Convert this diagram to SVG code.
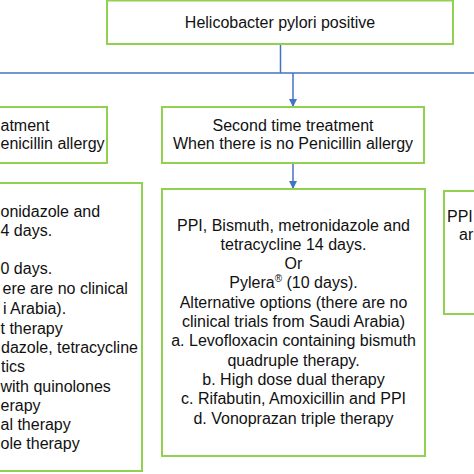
<svg xmlns="http://www.w3.org/2000/svg" width="474" height="474" viewBox="0 0 474 474">
<defs>
<marker id="arr" viewBox="0 0 10 10" refX="10" refY="5" markerWidth="8" markerHeight="8" markerUnits="userSpaceOnUse" orient="auto">
<path d="M0,0 L10,5 L0,10 z" fill="#4472c4"/>
</marker>
<style>
.box{fill:#ffffff;stroke:#92d050;stroke-width:2}
.t{font-family:"Liberation Sans",Arial,sans-serif;font-size:16px;fill:#111111}
.c{text-anchor:middle}
.e{text-anchor:end}
.ln{stroke:#4472c4;stroke-width:1.5;fill:none}
</style>
</defs>
<rect width="474" height="474" fill="#ffffff"/>
<g id="connectors">
<line class="ln" x1="280.5" y1="44" x2="280.5" y2="73"/>
<line class="ln" x1="0" y1="73" x2="474" y2="73"/>
<line class="ln" x1="293" y1="73" x2="293" y2="107" marker-end="url(#arr)"/>
<line class="ln" x1="293" y1="163" x2="293" y2="189" marker-end="url(#arr)"/>
</g>
<g id="root">
<rect class="box" x="107" y="0.5" width="346" height="43.5"/>
<text class="t c" x="280" y="28">Helicobacter pylori positive</text>
</g>
<g id="first-treatment">
<rect class="box" x="-10" y="107" width="117" height="56"/>
<text class="t" x="0.5" y="131">atment</text>
<text class="t" x="0.5" y="149">enicillin allergy</text>
</g>
<g id="second-treatment">
<rect class="box" x="162" y="107" width="262" height="56"/>
<text class="t c" x="293" y="131">Second time treatment</text>
<text class="t c" x="293" y="149">When there is no Penicillin allergy</text>
</g>
<g id="first-regimen">
<rect class="box" x="-10" y="183" width="152" height="288"/>
<text class="t" x="0.5" y="217">onidazole and</text>
<text class="t" x="0.5" y="236">4 days.</text>
<text class="t" x="0.5" y="274">0 days.</text>
<text class="t" x="2.5" y="294">ere are no clinical</text>
<text class="t" x="3" y="314">i Arabia).</text>
<text class="t" x="0.5" y="334">t therapy</text>
<text class="t" x="1" y="353">dazole, tetracycline</text>
<text class="t" x="1" y="372">tics</text>
<text class="t" x="0.5" y="392">with quinolones</text>
<text class="t" x="0.5" y="411">erapy</text>
<text class="t" x="0.5" y="430">al therapy</text>
<text class="t" x="0.5" y="449">ole therapy</text>
</g>
<g id="second-regimen">
<rect class="box" x="162" y="189" width="263" height="267"/>
<text class="t c" x="293.5" y="231">PPI, Bismuth, metronidazole and</text>
<text class="t c" x="293.5" y="250">tetracycline 14 days.</text>
<text class="t c" x="293.5" y="269">Or</text>
<text class="t c" x="293.5" y="288">Pylera<tspan font-size="10" dy="-6">®</tspan><tspan dy="6"> (10 days).</tspan></text>
<text class="t c" x="293.5" y="308">Alternative options (there are no</text>
<text class="t c" x="293.5" y="327">clinical trials from Saudi Arabia)</text>
<text class="t c" x="293.5" y="346">a. Levofloxacin containing bismuth</text>
<text class="t c" x="293.5" y="366">quadruple therapy.</text>
<text class="t c" x="293.5" y="385">b. High dose dual therapy</text>
<text class="t c" x="293.5" y="404">c. Rifabutin, Amoxicillin and PPI</text>
<text class="t c" x="293.5" y="424">d. Vonoprazan triple therapy</text>
</g>
<g id="third-regimen">
<rect class="box" x="444" y="191" width="40" height="123"/>
<text class="t" x="447" y="222">PPI</text>
<text class="t" x="459" y="240">ar</text>
</g>
</svg>
